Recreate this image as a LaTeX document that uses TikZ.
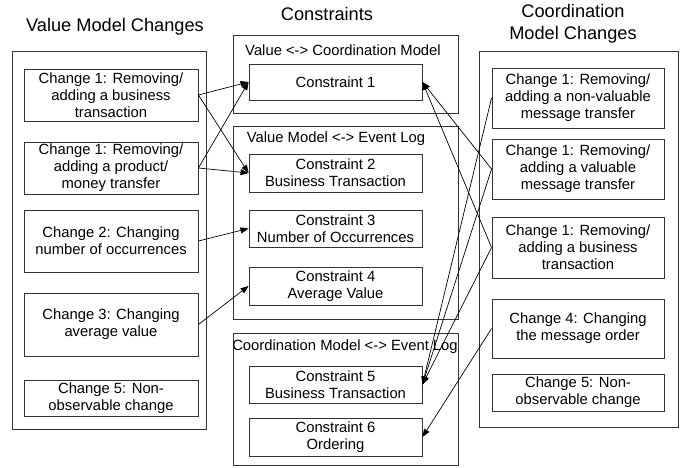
\documentclass[tikz,border=0pt]{standalone}
\usepackage{fontspec}
\setmainfont{Liberation Sans}
\usetikzlibrary{arrows.meta}
\tikzset{
  box/.style={draw=black!80, line width=0.9pt, inner sep=0pt, align=center, font=\fontsize{14.8}{17}\selectfont},
  group/.style={draw=black!80, line width=0.9pt, inner sep=0pt},
  title/.style={align=center, inner sep=0pt, font=\fontsize{18.2}{22}\selectfont},
  glabel/.style={inner sep=0pt, font=\fontsize{14.8}{17}\selectfont},
  link/.style={draw=black, line width=0.7pt, -{Triangle[length=8pt,width=6pt]}},
}
\begin{document}
\begin{tikzpicture}[x=1pt,y=-1pt]
\useasboundingbox (0,0) rectangle (685,468);
% titles
\node[title] (t1) at (115,27) {Value Model Changes};
\node[title] (t2) at (327,14) {Constraints};
\node[title] (t3) at (573,24) {Coordination\\Model Changes};
% left column
\node[group, minimum width=194pt, minimum height=378pt] (Lg) at (109,240) {};
\node[box, minimum width=174pt, minimum height=52pt] (A) at (111,95) {Change 1: Removing/\\adding a business\\transaction};
\node[box, minimum width=174pt, minimum height=52pt] (B) at (111,168) {Change 1: Removing/\\adding a product/\\money transfer};
\node[box, minimum width=174pt, minimum height=62pt] (C) at (111,241) {Change 2: Changing\\number of occurrences};
\node[box, minimum width=174pt, minimum height=63pt] (D) at (111,324.5) {Change 3: Changing\\average value};
\node[box, minimum width=174pt, minimum height=36pt] (E) at (111,398) {Change 5: Non-\\observable change};
% middle column
\node[group, minimum width=225pt, minimum height=78pt] (VC) at (345.5,74) {};
\node[glabel] (VCl) at (343,50) {Value <-> Coordination Model};
\node[box, minimum width=173pt, minimum height=36pt] (C1) at (335.5,82) {Constraint 1};
\node[group, minimum width=225pt, minimum height=193pt] (VE) at (345.5,222.5) {};
\node[glabel] (VEl) at (336,139) {Value Model <-> Event Log};
\node[box, minimum width=173pt, minimum height=38pt] (C2) at (335.5,173) {Constraint 2\\Business Transaction};
\node[box, minimum width=173pt, minimum height=37pt] (C3) at (335.5,228.5) {Constraint 3\\Number of Occurrences};
\node[box, minimum width=173pt, minimum height=38pt] (C4) at (335.5,286) {Constraint 4\\Average Value};
\node[group, minimum width=225pt, minimum height=132pt] (CE) at (345.5,399) {};
\node[glabel] (CEl) at (345,347) {Coordination Model <-> Event Log};
\node[box, minimum width=173pt, minimum height=37pt] (C5) at (335.5,384.5) {Constraint 5\\Business Transaction};
\node[box, minimum width=173pt, minimum height=38pt] (C6) at (335.5,437) {Constraint 6\\Ordering};
% right column
\node[group, minimum width=199pt, minimum height=376pt] (Rg) at (578.5,239) {};
\node[box, minimum width=172pt, minimum height=60pt] (R1) at (578,98) {Change 1: Removing/\\adding a non-valuable\\message transfer};
\node[box, minimum width=172pt, minimum height=60pt] (R2) at (578,169) {Change 1: Removing/\\adding a valuable\\message transfer};
\node[box, minimum width=172pt, minimum height=61pt] (R3) at (578,247.5) {Change 1: Removing/\\adding a business\\transaction};
\node[box, minimum width=172pt, minimum height=59pt] (R4) at (578,328.5) {Change 4: Changing\\the message order};
\node[box, minimum width=172pt, minimum height=37pt] (R5) at (578,392.5) {Change 5: Non-\\observable change};
% connectors left
\draw[link] (A.east) -- (C1.west);
\draw[link] (A.east) -- (C2.west);
\draw[link] (B.east) -- (C1.west);
\draw[link] (B.east) -- (C2.west);
\draw[link] (C.east) -- (C3.west);
\draw[link] (D.east) -- (C4.west);
% connectors right
\draw[link] (R1.west) -- (C5.east);
\draw[link] (R2.west) -- (C1.east);
\draw[link] (R2.west) -- (C5.east);
\draw[link] (R3.west) -- (C1.east);
\draw[link] (R3.west) -- (C5.east);
\draw[link] (R4.west) -- (C6.east);
\end{tikzpicture}
\end{document}
